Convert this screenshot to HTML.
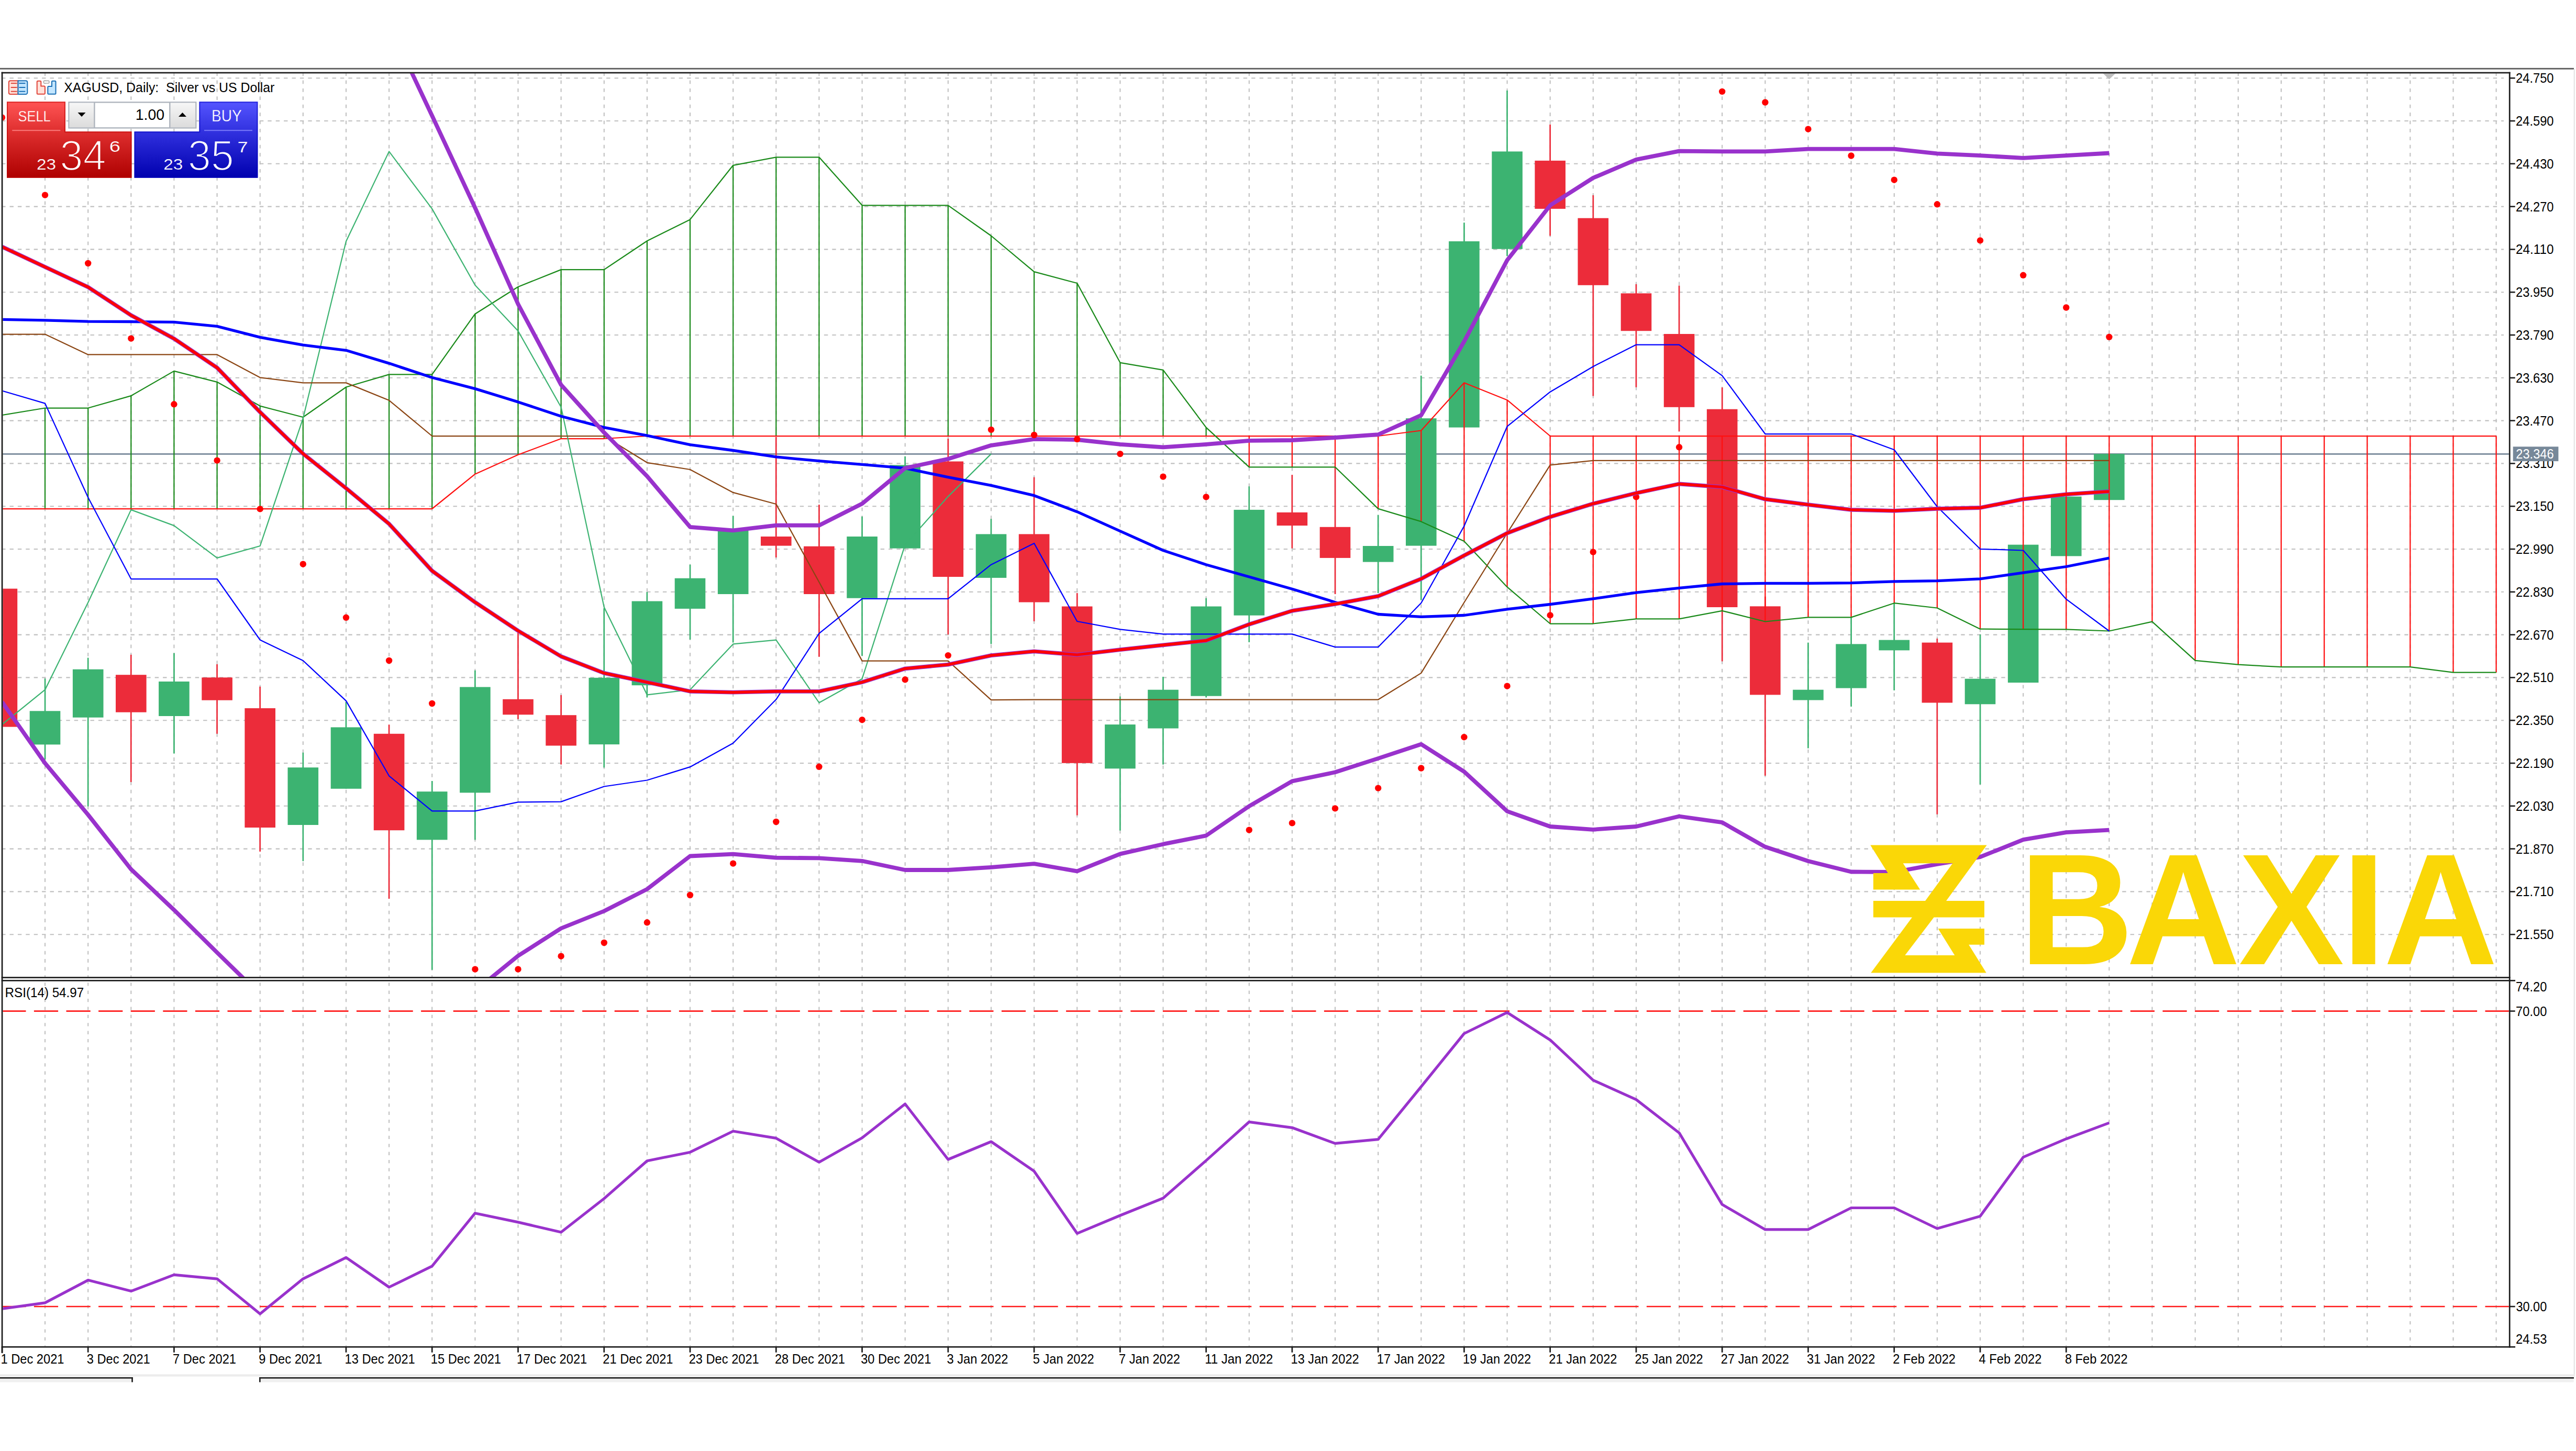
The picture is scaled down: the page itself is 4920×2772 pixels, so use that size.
<!DOCTYPE html>
<html lang="en"><head><meta charset="utf-8"><title>XAGUSD, Daily: Silver vs US Dollar</title>
<style>
html,body{margin:0;padding:0;background:#fff;overflow:hidden}
svg{display:block}
text{font-family:"Liberation Sans",sans-serif}
</style></head>
<body>
<svg width="4920" height="2772" viewBox="0 0 4920 2772">
<defs>
<clipPath id="cm"><rect x="5.40" y="140.35" width="4786.45" height="1725.80"/></clipPath>
<clipPath id="cr"><rect x="5.40" y="1874.65" width="4786.45" height="697.20"/></clipPath>
<linearGradient id="gs" gradientUnits="userSpaceOnUse" x1="0" y1="194" x2="0" y2="340"><stop offset="0" stop-color="#ff5555"/><stop offset="0.38" stop-color="#e03030"/><stop offset="1" stop-color="#ae0000"/></linearGradient>
<linearGradient id="gb" gradientUnits="userSpaceOnUse" x1="0" y1="194" x2="0" y2="340"><stop offset="0" stop-color="#5555ff"/><stop offset="0.38" stop-color="#3232e0"/><stop offset="1" stop-color="#0000ae"/></linearGradient>
<linearGradient id="gsp" x1="0" y1="0" x2="0" y2="1"><stop offset="0" stop-color="#f6f6f6"/><stop offset="1" stop-color="#dcdcdc"/></linearGradient>
</defs>
<rect width="4920" height="2772" fill="#fff"/>
<rect x="0" y="129.8" width="4916" height="2.8" fill="#5c5c5c"/>
<rect x="4915.6" y="132" width="2.3" height="2495" fill="#e6e6e6"/>
<rect x="0" y="2625.5" width="4918" height="4.2" fill="#ececec"/>
<rect x="0" y="2633.6" width="252" height="7" fill="#f0f0f0"/>
<rect x="497.5" y="2633.6" width="4418" height="7" fill="#f0f0f0"/>
<rect x="0" y="2631" width="253.8" height="2.7" fill="#222"/>
<rect x="251.2" y="2631" width="2.7" height="9.5" fill="#222"/>
<rect x="495" y="2631" width="4421" height="2.7" fill="#222"/>
<rect x="495" y="2631" width="2.7" height="9.5" fill="#222"/>
<g clip-path="url(#cm)" fill="none">
<g stroke="#c0c0c0" stroke-width="2.1">
<g stroke-dasharray="7.4 8">
<line x1="3.1" y1="149.2" x2="4782" y2="149.2"/>
<line x1="3.1" y1="231.0" x2="4782" y2="231.0"/>
<line x1="3.1" y1="312.8" x2="4782" y2="312.8"/>
<line x1="3.1" y1="394.6" x2="4782" y2="394.6"/>
<line x1="3.1" y1="476.4" x2="4782" y2="476.4"/>
<line x1="3.1" y1="558.2" x2="4782" y2="558.2"/>
<line x1="3.1" y1="640.0" x2="4782" y2="640.0"/>
<line x1="3.1" y1="721.8" x2="4782" y2="721.8"/>
<line x1="3.1" y1="803.6" x2="4782" y2="803.6"/>
<line x1="3.1" y1="885.4" x2="4782" y2="885.4"/>
<line x1="3.1" y1="967.2" x2="4782" y2="967.2"/>
<line x1="3.1" y1="1049.0" x2="4782" y2="1049.0"/>
<line x1="3.1" y1="1130.8" x2="4782" y2="1130.8"/>
<line x1="3.1" y1="1212.6" x2="4782" y2="1212.6"/>
<line x1="3.1" y1="1294.4" x2="4782" y2="1294.4"/>
<line x1="3.1" y1="1376.2" x2="4782" y2="1376.2"/>
<line x1="3.1" y1="1458.0" x2="4782" y2="1458.0"/>
<line x1="3.1" y1="1539.8" x2="4782" y2="1539.8"/>
<line x1="3.1" y1="1621.6" x2="4782" y2="1621.6"/>
<line x1="3.1" y1="1703.4" x2="4782" y2="1703.4"/>
<line x1="3.1" y1="1785.2" x2="4782" y2="1785.2"/>
</g><g stroke-dasharray="6.8 8.6">
<line x1="86.0" y1="138.1" x2="86.0" y2="1867.5"/>
<line x1="168.2" y1="138.1" x2="168.2" y2="1867.5"/>
<line x1="250.3" y1="138.1" x2="250.3" y2="1867.5"/>
<line x1="332.4" y1="138.1" x2="332.4" y2="1867.5"/>
<line x1="414.6" y1="138.1" x2="414.6" y2="1867.5"/>
<line x1="496.7" y1="138.1" x2="496.7" y2="1867.5"/>
<line x1="578.8" y1="138.1" x2="578.8" y2="1867.5"/>
<line x1="661.0" y1="138.1" x2="661.0" y2="1867.5"/>
<line x1="743.1" y1="138.1" x2="743.1" y2="1867.5"/>
<line x1="825.2" y1="138.1" x2="825.2" y2="1867.5"/>
<line x1="907.4" y1="138.1" x2="907.4" y2="1867.5"/>
<line x1="989.5" y1="138.1" x2="989.5" y2="1867.5"/>
<line x1="1071.6" y1="138.1" x2="1071.6" y2="1867.5"/>
<line x1="1153.8" y1="138.1" x2="1153.8" y2="1867.5"/>
<line x1="1235.9" y1="138.1" x2="1235.9" y2="1867.5"/>
<line x1="1318.0" y1="138.1" x2="1318.0" y2="1867.5"/>
<line x1="1400.2" y1="138.1" x2="1400.2" y2="1867.5"/>
<line x1="1482.3" y1="138.1" x2="1482.3" y2="1867.5"/>
<line x1="1564.4" y1="138.1" x2="1564.4" y2="1867.5"/>
<line x1="1646.6" y1="138.1" x2="1646.6" y2="1867.5"/>
<line x1="1728.7" y1="138.1" x2="1728.7" y2="1867.5"/>
<line x1="1810.8" y1="138.1" x2="1810.8" y2="1867.5"/>
<line x1="1893.0" y1="138.1" x2="1893.0" y2="1867.5"/>
<line x1="1975.1" y1="138.1" x2="1975.1" y2="1867.5"/>
<line x1="2057.2" y1="138.1" x2="2057.2" y2="1867.5"/>
<line x1="2139.4" y1="138.1" x2="2139.4" y2="1867.5"/>
<line x1="2221.5" y1="138.1" x2="2221.5" y2="1867.5"/>
<line x1="2303.6" y1="138.1" x2="2303.6" y2="1867.5"/>
<line x1="2385.8" y1="138.1" x2="2385.8" y2="1867.5"/>
<line x1="2467.9" y1="138.1" x2="2467.9" y2="1867.5"/>
<line x1="2550.0" y1="138.1" x2="2550.0" y2="1867.5"/>
<line x1="2632.2" y1="138.1" x2="2632.2" y2="1867.5"/>
<line x1="2714.3" y1="138.1" x2="2714.3" y2="1867.5"/>
<line x1="2796.4" y1="138.1" x2="2796.4" y2="1867.5"/>
<line x1="2878.6" y1="138.1" x2="2878.6" y2="1867.5"/>
<line x1="2960.7" y1="138.1" x2="2960.7" y2="1867.5"/>
<line x1="3042.8" y1="138.1" x2="3042.8" y2="1867.5"/>
<line x1="3125.0" y1="138.1" x2="3125.0" y2="1867.5"/>
<line x1="3207.1" y1="138.1" x2="3207.1" y2="1867.5"/>
<line x1="3289.2" y1="138.1" x2="3289.2" y2="1867.5"/>
<line x1="3371.4" y1="138.1" x2="3371.4" y2="1867.5"/>
<line x1="3453.5" y1="138.1" x2="3453.5" y2="1867.5"/>
<line x1="3535.6" y1="138.1" x2="3535.6" y2="1867.5"/>
<line x1="3617.8" y1="138.1" x2="3617.8" y2="1867.5"/>
<line x1="3699.9" y1="138.1" x2="3699.9" y2="1867.5"/>
<line x1="3782.0" y1="138.1" x2="3782.0" y2="1867.5"/>
<line x1="3864.2" y1="138.1" x2="3864.2" y2="1867.5"/>
<line x1="3946.3" y1="138.1" x2="3946.3" y2="1867.5"/>
<line x1="4028.4" y1="138.1" x2="4028.4" y2="1867.5"/>
<line x1="4110.5" y1="138.1" x2="4110.5" y2="1867.5"/>
<line x1="4192.7" y1="138.1" x2="4192.7" y2="1867.5"/>
<line x1="4274.8" y1="138.1" x2="4274.8" y2="1867.5"/>
<line x1="4356.9" y1="138.1" x2="4356.9" y2="1867.5"/>
<line x1="4439.1" y1="138.1" x2="4439.1" y2="1867.5"/>
<line x1="4521.2" y1="138.1" x2="4521.2" y2="1867.5"/>
<line x1="4603.3" y1="138.1" x2="4603.3" y2="1867.5"/>
<line x1="4685.5" y1="138.1" x2="4685.5" y2="1867.5"/>
<line x1="4767.6" y1="138.1" x2="4767.6" y2="1867.5"/>
</g></g>
<line x1="3" y1="867.4" x2="4793" y2="867.4" stroke="#778899" stroke-width="2.6"/>
<rect x="-25.4" y="1124.6" width="58.6" height="264.0" fill="#ec2c3a"/>
<rect x="84.7" y="1296.2" width="2.7" height="154.8" fill="#3cb371"/>
<rect x="56.7" y="1358.3" width="58.6" height="64.1" fill="#3cb371"/>
<rect x="166.8" y="1256.6" width="2.7" height="283.9" fill="#3cb371"/>
<rect x="138.9" y="1278.7" width="58.6" height="92.0" fill="#3cb371"/>
<rect x="248.9" y="1250.8" width="2.7" height="243.2" fill="#ec2c3a"/>
<rect x="221.0" y="1289.2" width="58.6" height="71.5" fill="#ec2c3a"/>
<rect x="331.1" y="1247.7" width="2.7" height="191.9" fill="#3cb371"/>
<rect x="303.1" y="1302.0" width="58.6" height="66.0" fill="#3cb371"/>
<rect x="413.2" y="1269.0" width="2.7" height="132.8" fill="#ec2c3a"/>
<rect x="385.3" y="1294.3" width="58.6" height="43.4" fill="#ec2c3a"/>
<rect x="495.3" y="1311.7" width="2.7" height="315.2" fill="#ec2c3a"/>
<rect x="467.4" y="1353.0" width="58.6" height="228.0" fill="#ec2c3a"/>
<rect x="577.5" y="1437.7" width="2.7" height="207.5" fill="#3cb371"/>
<rect x="549.5" y="1466.2" width="58.6" height="109.8" fill="#3cb371"/>
<rect x="659.6" y="1340.9" width="2.7" height="165.9" fill="#3cb371"/>
<rect x="631.7" y="1389.4" width="58.6" height="117.4" fill="#3cb371"/>
<rect x="741.7" y="1384.3" width="2.7" height="332.7" fill="#ec2c3a"/>
<rect x="713.8" y="1401.8" width="58.6" height="184.4" fill="#ec2c3a"/>
<rect x="823.9" y="1492.0" width="2.7" height="360.8" fill="#3cb371"/>
<rect x="795.9" y="1512.2" width="58.6" height="92.2" fill="#3cb371"/>
<rect x="906.0" y="1280.7" width="2.7" height="323.7" fill="#3cb371"/>
<rect x="878.1" y="1312.5" width="58.6" height="201.9" fill="#3cb371"/>
<rect x="988.1" y="1207.0" width="2.7" height="166.9" fill="#ec2c3a"/>
<rect x="960.2" y="1335.8" width="58.6" height="29.5" fill="#ec2c3a"/>
<rect x="1070.3" y="1327.8" width="2.7" height="132.8" fill="#ec2c3a"/>
<rect x="1042.3" y="1366.2" width="58.6" height="58.3" fill="#ec2c3a"/>
<rect x="1152.4" y="1162.0" width="2.7" height="304.4" fill="#3cb371"/>
<rect x="1124.5" y="1294.8" width="58.6" height="127.3" fill="#3cb371"/>
<rect x="1234.5" y="1131.0" width="2.7" height="201.5" fill="#3cb371"/>
<rect x="1206.6" y="1148.5" width="58.6" height="160.7" fill="#3cb371"/>
<rect x="1316.7" y="1078.7" width="2.7" height="143.1" fill="#3cb371"/>
<rect x="1288.7" y="1104.7" width="58.6" height="58.2" fill="#3cb371"/>
<rect x="1398.8" y="985.5" width="2.7" height="242.1" fill="#3cb371"/>
<rect x="1370.9" y="1013.4" width="58.6" height="121.6" fill="#3cb371"/>
<rect x="1480.9" y="835.0" width="2.7" height="230.0" fill="#ec2c3a"/>
<rect x="1453.0" y="1025.0" width="58.6" height="17.6" fill="#ec2c3a"/>
<rect x="1563.1" y="964.1" width="2.7" height="290.7" fill="#ec2c3a"/>
<rect x="1535.1" y="1043.7" width="58.6" height="91.3" fill="#ec2c3a"/>
<rect x="1645.2" y="986.7" width="2.7" height="266.2" fill="#3cb371"/>
<rect x="1617.3" y="1025.0" width="58.6" height="117.7" fill="#3cb371"/>
<rect x="1727.3" y="871.8" width="2.7" height="175.8" fill="#3cb371"/>
<rect x="1699.4" y="888.4" width="58.6" height="159.2" fill="#3cb371"/>
<rect x="1809.5" y="838.0" width="2.7" height="374.1" fill="#ec2c3a"/>
<rect x="1781.5" y="881.5" width="58.6" height="220.5" fill="#ec2c3a"/>
<rect x="1891.6" y="991.3" width="2.7" height="239.1" fill="#3cb371"/>
<rect x="1863.7" y="1020.4" width="58.6" height="83.5" fill="#3cb371"/>
<rect x="1973.7" y="911.7" width="2.7" height="275.2" fill="#ec2c3a"/>
<rect x="1945.8" y="1020.4" width="58.6" height="130.1" fill="#ec2c3a"/>
<rect x="2055.9" y="1133.0" width="2.7" height="424.6" fill="#ec2c3a"/>
<rect x="2027.9" y="1158.5" width="58.6" height="299.3" fill="#ec2c3a"/>
<rect x="2138.0" y="1330.5" width="2.7" height="256.2" fill="#3cb371"/>
<rect x="2110.1" y="1384.1" width="58.6" height="84.2" fill="#3cb371"/>
<rect x="2220.1" y="1292.9" width="2.7" height="167.7" fill="#3cb371"/>
<rect x="2192.2" y="1317.7" width="58.6" height="73.8" fill="#3cb371"/>
<rect x="2302.3" y="1142.7" width="2.7" height="189.8" fill="#3cb371"/>
<rect x="2274.3" y="1158.5" width="58.6" height="171.2" fill="#3cb371"/>
<rect x="2384.4" y="929.2" width="2.7" height="297.7" fill="#3cb371"/>
<rect x="2356.5" y="973.9" width="58.6" height="201.8" fill="#3cb371"/>
<rect x="2466.5" y="907.1" width="2.7" height="140.5" fill="#ec2c3a"/>
<rect x="2438.6" y="978.9" width="58.6" height="25.2" fill="#ec2c3a"/>
<rect x="2548.7" y="892.0" width="2.7" height="243.0" fill="#ec2c3a"/>
<rect x="2520.7" y="1006.8" width="58.6" height="59.1" fill="#ec2c3a"/>
<rect x="2630.8" y="983.6" width="2.7" height="149.4" fill="#3cb371"/>
<rect x="2602.9" y="1043.0" width="58.6" height="30.6" fill="#3cb371"/>
<rect x="2712.9" y="717.6" width="2.7" height="429.0" fill="#3cb371"/>
<rect x="2685.0" y="799.2" width="58.6" height="243.4" fill="#3cb371"/>
<rect x="2795.1" y="425.3" width="2.7" height="391.3" fill="#3cb371"/>
<rect x="2767.1" y="461.0" width="58.6" height="355.6" fill="#3cb371"/>
<rect x="2877.2" y="172.9" width="2.7" height="316.4" fill="#3cb371"/>
<rect x="2849.3" y="289.4" width="58.6" height="186.3" fill="#3cb371"/>
<rect x="2959.3" y="237.8" width="2.7" height="212.7" fill="#ec2c3a"/>
<rect x="2931.4" y="306.9" width="58.6" height="92.0" fill="#ec2c3a"/>
<rect x="3041.5" y="372.9" width="2.7" height="383.6" fill="#ec2c3a"/>
<rect x="3013.5" y="416.7" width="58.6" height="128.1" fill="#ec2c3a"/>
<rect x="3123.6" y="542.9" width="2.7" height="196.9" fill="#ec2c3a"/>
<rect x="3095.7" y="560.4" width="58.6" height="71.8" fill="#ec2c3a"/>
<rect x="3205.7" y="545.6" width="2.7" height="278.8" fill="#ec2c3a"/>
<rect x="3177.8" y="638.0" width="58.6" height="139.8" fill="#ec2c3a"/>
<rect x="3287.9" y="740.2" width="2.7" height="523.2" fill="#ec2c3a"/>
<rect x="3259.9" y="781.7" width="58.6" height="378.3" fill="#ec2c3a"/>
<rect x="3370.0" y="1140.0" width="2.7" height="341.9" fill="#ec2c3a"/>
<rect x="3342.1" y="1158.3" width="58.6" height="169.1" fill="#ec2c3a"/>
<rect x="3452.1" y="1227.6" width="2.7" height="201.9" fill="#3cb371"/>
<rect x="3424.2" y="1317.7" width="58.6" height="19.8" fill="#3cb371"/>
<rect x="3534.3" y="1180.0" width="2.7" height="169.9" fill="#3cb371"/>
<rect x="3506.3" y="1230.4" width="58.6" height="84.2" fill="#3cb371"/>
<rect x="3616.4" y="1152.0" width="2.7" height="166.9" fill="#3cb371"/>
<rect x="3588.5" y="1222.6" width="58.6" height="19.8" fill="#3cb371"/>
<rect x="3698.5" y="1219.9" width="2.7" height="335.8" fill="#ec2c3a"/>
<rect x="3670.6" y="1227.6" width="58.6" height="114.9" fill="#ec2c3a"/>
<rect x="3780.7" y="1212.1" width="2.7" height="286.5" fill="#3cb371"/>
<rect x="3752.7" y="1296.7" width="58.6" height="48.6" fill="#3cb371"/>
<rect x="3834.9" y="1040.6" width="58.6" height="263.5" fill="#3cb371"/>
<rect x="3917.0" y="948.6" width="58.6" height="113.8" fill="#3cb371"/>
<rect x="3999.1" y="867.1" width="58.6" height="88.1" fill="#3cb371"/>
<g stroke-width="2.25">
<line x1="3.9" y1="793.0" x2="3.9" y2="972.0" stroke="#1a8a1a"/>
<line x1="86.0" y1="779.5" x2="86.0" y2="972.0" stroke="#1a8a1a"/>
<line x1="168.2" y1="779.5" x2="168.2" y2="972.0" stroke="#1a8a1a"/>
<line x1="250.3" y1="756.2" x2="250.3" y2="972.0" stroke="#1a8a1a"/>
<line x1="332.4" y1="708.9" x2="332.4" y2="972.0" stroke="#1a8a1a"/>
<line x1="414.6" y1="729.8" x2="414.6" y2="972.0" stroke="#1a8a1a"/>
<line x1="496.7" y1="775.6" x2="496.7" y2="972.0" stroke="#1a8a1a"/>
<line x1="578.8" y1="797.0" x2="578.8" y2="972.0" stroke="#1a8a1a"/>
<line x1="661.0" y1="739.5" x2="661.0" y2="972.0" stroke="#1a8a1a"/>
<line x1="743.1" y1="715.3" x2="743.1" y2="972.0" stroke="#1a8a1a"/>
<line x1="825.2" y1="715.3" x2="825.2" y2="972.0" stroke="#1a8a1a"/>
<line x1="907.4" y1="599.7" x2="907.4" y2="905.7" stroke="#1a8a1a"/>
<line x1="989.5" y1="548.0" x2="989.5" y2="868.8" stroke="#1a8a1a"/>
<line x1="1071.6" y1="515.1" x2="1071.6" y2="838.0" stroke="#1a8a1a"/>
<line x1="1153.8" y1="515.1" x2="1153.8" y2="838.0" stroke="#1a8a1a"/>
<line x1="1235.9" y1="460.2" x2="1235.9" y2="833.0" stroke="#1a8a1a"/>
<line x1="1318.0" y1="419.4" x2="1318.0" y2="833.0" stroke="#1a8a1a"/>
<line x1="1400.2" y1="315.8" x2="1400.2" y2="833.0" stroke="#1a8a1a"/>
<line x1="1482.3" y1="300.3" x2="1482.3" y2="833.0" stroke="#1a8a1a"/>
<line x1="1564.4" y1="300.3" x2="1564.4" y2="833.0" stroke="#1a8a1a"/>
<line x1="1646.6" y1="392.3" x2="1646.6" y2="833.0" stroke="#1a8a1a"/>
<line x1="1728.7" y1="392.3" x2="1728.7" y2="833.0" stroke="#1a8a1a"/>
<line x1="1810.8" y1="392.3" x2="1810.8" y2="833.0" stroke="#1a8a1a"/>
<line x1="1893.0" y1="450.5" x2="1893.0" y2="833.0" stroke="#1a8a1a"/>
<line x1="1975.1" y1="519.2" x2="1975.1" y2="833.0" stroke="#1a8a1a"/>
<line x1="2057.2" y1="541.0" x2="2057.2" y2="833.0" stroke="#1a8a1a"/>
<line x1="2139.4" y1="692.8" x2="2139.4" y2="833.0" stroke="#1a8a1a"/>
<line x1="2221.5" y1="706.8" x2="2221.5" y2="833.0" stroke="#1a8a1a"/>
<line x1="2303.6" y1="816.6" x2="2303.6" y2="833.0" stroke="#1a8a1a"/>
<line x1="2385.8" y1="892.3" x2="2385.8" y2="833.0" stroke="#ff1010"/>
<line x1="2467.9" y1="892.3" x2="2467.9" y2="833.0" stroke="#ff1010"/>
<line x1="2550.0" y1="892.3" x2="2550.0" y2="833.0" stroke="#ff1010"/>
<line x1="2632.2" y1="971.9" x2="2632.2" y2="833.0" stroke="#ff1010"/>
<line x1="2714.3" y1="996.4" x2="2714.3" y2="822.5" stroke="#ff1010"/>
<line x1="2796.4" y1="1034.0" x2="2796.4" y2="731.2" stroke="#ff1010"/>
<line x1="2878.6" y1="1121.4" x2="2878.6" y2="764.2" stroke="#ff1010"/>
<line x1="2960.7" y1="1191.5" x2="2960.7" y2="833.0" stroke="#ff1010"/>
<line x1="3042.8" y1="1191.5" x2="3042.8" y2="833.0" stroke="#ff1010"/>
<line x1="3125.0" y1="1182.3" x2="3125.0" y2="833.0" stroke="#ff1010"/>
<line x1="3207.1" y1="1182.3" x2="3207.1" y2="833.0" stroke="#ff1010"/>
<line x1="3289.2" y1="1166.8" x2="3289.2" y2="833.0" stroke="#ff1010"/>
<line x1="3371.4" y1="1187.5" x2="3371.4" y2="833.0" stroke="#ff1010"/>
<line x1="3453.5" y1="1179.4" x2="3453.5" y2="833.0" stroke="#ff1010"/>
<line x1="3535.6" y1="1179.4" x2="3535.6" y2="833.0" stroke="#ff1010"/>
<line x1="3617.8" y1="1152.2" x2="3617.8" y2="833.0" stroke="#ff1010"/>
<line x1="3699.9" y1="1161.5" x2="3699.9" y2="833.0" stroke="#ff1010"/>
<line x1="3782.0" y1="1201.7" x2="3782.0" y2="833.0" stroke="#ff1010"/>
<line x1="3864.2" y1="1202.0" x2="3864.2" y2="833.0" stroke="#ff1010"/>
<line x1="3946.3" y1="1202.4" x2="3946.3" y2="833.0" stroke="#ff1010"/>
<line x1="4028.4" y1="1205.5" x2="4028.4" y2="833.0" stroke="#ff1010"/>
<line x1="4110.5" y1="1187.7" x2="4110.5" y2="833.0" stroke="#ff1010"/>
<line x1="4192.7" y1="1261.8" x2="4192.7" y2="833.0" stroke="#ff1010"/>
<line x1="4274.8" y1="1269.6" x2="4274.8" y2="833.0" stroke="#ff1010"/>
<line x1="4356.9" y1="1274.2" x2="4356.9" y2="833.0" stroke="#ff1010"/>
<line x1="4439.1" y1="1274.2" x2="4439.1" y2="833.0" stroke="#ff1010"/>
<line x1="4521.2" y1="1274.2" x2="4521.2" y2="833.0" stroke="#ff1010"/>
<line x1="4603.3" y1="1274.2" x2="4603.3" y2="833.0" stroke="#ff1010"/>
<line x1="4685.5" y1="1284.7" x2="4685.5" y2="833.0" stroke="#ff1010"/>
<line x1="4767.6" y1="1284.7" x2="4767.6" y2="833.0" stroke="#ff1010"/>
<polyline points="3.9,972.0 86.0,972.0 168.2,972.0 250.3,972.0 332.4,972.0 414.6,972.0 496.7,972.0 578.8,972.0 661.0,972.0 743.1,972.0 825.2,972.0 907.4,905.7 989.5,868.8 1071.6,838.0 1153.8,838.0 1235.9,833.0 1318.0,833.0 1400.2,833.0 1482.3,833.0 1564.4,833.0 1646.6,833.0 1728.7,833.0 1810.8,833.0 1893.0,833.0 1975.1,833.0 2057.2,833.0 2139.4,833.0 2221.5,833.0 2303.6,833.0 2385.8,833.0 2467.9,833.0 2550.0,833.0 2632.2,833.0 2714.3,822.5 2796.4,731.2 2878.6,764.2 2960.7,833.0 3042.8,833.0 3125.0,833.0 3207.1,833.0 3289.2,833.0 3371.4,833.0 3453.5,833.0 3535.6,833.0 3617.8,833.0 3699.9,833.0 3782.0,833.0 3864.2,833.0 3946.3,833.0 4028.4,833.0 4110.5,833.0 4192.7,833.0 4274.8,833.0 4356.9,833.0 4439.1,833.0 4521.2,833.0 4603.3,833.0 4685.5,833.0 4767.6,833.0" stroke="#ff1010" stroke-linejoin="round"/>
<polyline points="3.9,793.0 86.0,779.5 168.2,779.5 250.3,756.2 332.4,708.9 414.6,729.8 496.7,775.6 578.8,797.0 661.0,739.5 743.1,715.3 825.2,715.3 907.4,599.7 989.5,548.0 1071.6,515.1 1153.8,515.1 1235.9,460.2 1318.0,419.4 1400.2,315.8 1482.3,300.3 1564.4,300.3 1646.6,392.3 1728.7,392.3 1810.8,392.3 1893.0,450.5 1975.1,519.2 2057.2,541.0 2139.4,692.8 2221.5,706.8 2303.6,816.6 2385.8,892.3 2467.9,892.3 2550.0,892.3 2632.2,971.9 2714.3,996.4 2796.4,1034.0 2878.6,1121.4 2960.7,1191.5 3042.8,1191.5 3125.0,1182.3 3207.1,1182.3 3289.2,1166.8 3371.4,1187.5 3453.5,1179.4 3535.6,1179.4 3617.8,1152.2 3699.9,1161.5 3782.0,1201.7 3864.2,1202.0 3946.3,1202.4 4028.4,1205.5 4110.5,1187.7 4192.7,1261.8 4274.8,1269.6 4356.9,1274.2 4439.1,1274.2 4521.2,1274.2 4603.3,1274.2 4685.5,1284.7 4767.6,1284.7" stroke="#1a8a1a" stroke-linejoin="round"/>
<polyline points="3.9,1384.1 86.0,1317.7 168.2,1151.0 250.3,973.9 332.4,1004.1 414.6,1065.9 496.7,1043.0 578.8,799.2 661.0,461.0 743.1,289.4 825.2,398.9 907.4,544.8 989.5,632.2 1071.6,777.8 1153.8,1160.0 1235.9,1327.4 1318.0,1317.7 1400.2,1230.4 1482.3,1222.6 1564.4,1342.5 1646.6,1296.7 1728.7,1040.6 1810.8,948.6 1893.0,867.1" stroke="#3cb371" stroke-width="2.2" stroke-linejoin="round"/>
<polyline points="3.9,638.5 86.0,638.5 168.2,677.4 250.3,677.4 332.4,677.4 414.6,677.4 496.7,721.3 578.8,731.4 661.0,731.4 743.1,764.8 825.2,833.0 907.4,833.0 989.5,833.0 1071.6,833.0 1153.8,833.0 1235.9,883.8 1318.0,897.0 1400.2,940.9 1482.3,963.0 1564.4,1112.0 1646.6,1262.6 1728.7,1262.6 1810.8,1262.6 1893.0,1337.1 1975.1,1336.5 2057.2,1336.5 2139.4,1336.5 2221.5,1336.5 2303.6,1336.5 2385.8,1336.5 2467.9,1336.5 2550.0,1336.5 2632.2,1336.5 2714.3,1285.9 2796.4,1151.0 2878.6,1018.5 2960.7,888.4 3042.8,879.9 3125.0,879.9 3207.1,879.9 3289.2,879.9 3371.4,879.9 3453.5,879.9 3535.6,879.9 3617.8,879.9 3699.9,879.9 3782.0,879.9 3864.2,879.9 3946.3,879.9 4028.4,879.9" stroke="#8b4513" stroke-linejoin="round"/>
<polyline points="3.9,746.5 86.0,770.6 168.2,950.3 250.3,1106.0 332.4,1106.0 414.6,1106.0 496.7,1222.5 578.8,1262.0 661.0,1338.9 743.1,1482.3 825.2,1549.3 907.4,1549.3 989.5,1532.4 1071.6,1531.6 1153.8,1502.5 1235.9,1490.5 1318.0,1465.2 1400.2,1419.8 1482.3,1336.3 1564.4,1210.2 1646.6,1143.9 1728.7,1143.9 1810.8,1143.9 1893.0,1078.7 1975.1,1037.9 2057.2,1187.0 2139.4,1202.4 2221.5,1211.3 2303.6,1211.3 2385.8,1211.3 2467.9,1211.3 2550.0,1236.2 2632.2,1236.2 2714.3,1152.0 2796.4,1005.0 2878.6,814.7 2960.7,748.7 3042.8,700.2 3125.0,658.6 3207.1,658.6 3289.2,717.6 3371.4,829.0 3453.5,829.0 3535.6,829.0 3617.8,859.3 3699.9,968.0 3782.0,1048.8 3864.2,1051.5 3946.3,1144.7 4028.4,1205.5" stroke="#0000ff" stroke-linejoin="round"/>
</g>
<polyline points="3.9,610.3 86.0,611.8 168.2,614.1 250.3,614.5 332.4,615.3 414.6,623.4 496.7,644.4 578.8,659.2 661.0,669.3 743.1,694.1 825.2,721.3 907.4,742.6 989.5,767.9 1071.6,795.3 1153.8,816.6 1235.9,832.2 1318.0,849.6 1400.2,860.5 1482.3,872.9 1564.4,880.7 1646.6,887.3 1728.7,894.3 1810.8,911.7 1893.0,927.3 1975.1,946.7 2057.2,977.7 2139.4,1014.6 2221.5,1051.5 2303.6,1078.7 2385.8,1102.0 2467.9,1125.2 2550.0,1150.5 2632.2,1173.5 2714.3,1178.4 2796.4,1175.5 2878.6,1163.8 2960.7,1154.5 3042.8,1143.9 3125.0,1132.2 3207.1,1123.3 3289.2,1115.5 3371.4,1114.4 3453.5,1114.4 3535.6,1113.6 3617.8,1110.9 3699.9,1109.7 3782.0,1105.8 3864.2,1094.2 3946.3,1082.5 4028.4,1066.2" stroke="#0000ff" stroke-width="5.3" stroke-linejoin="round"/>
<polyline points="743.1,47.0 825.2,221.0 907.4,397.0 989.5,581.0 1071.6,735.1 1153.8,826.3 1235.9,909.8 1318.0,1006.8 1400.2,1013.4 1482.3,1003.7 1564.4,1003.7 1646.6,962.2 1728.7,894.3 1810.8,876.8 1893.0,850.8 1975.1,838.8 2057.2,840.0 2139.4,848.9 2221.5,854.3 2303.6,848.9 2385.8,841.9 2467.9,841.0 2550.0,836.0 2632.2,830.2 2714.3,793.3 2796.4,652.5 2878.6,497.1 2960.7,392.3 3042.8,339.9 3125.0,304.9 3207.1,288.6 3289.2,289.4 3371.4,289.4 3453.5,284.7 3535.6,284.7 3617.8,284.7 3699.9,293.3 3782.0,297.2 3864.2,301.8 3946.3,297.2 4028.4,292.5" stroke="#9932cc" stroke-width="7.8" stroke-linejoin="round"/>
<polyline points="3.9,1340.9 86.0,1458.0 168.2,1556.5 250.3,1660.7 332.4,1738.3 414.6,1819.8 496.7,1900.0 578.8,1960.0 661.0,1990.0 743.1,1990.0 825.2,1960.0 907.4,1893.0 989.5,1826.0 1071.6,1773.5 1153.8,1740.5 1235.9,1698.6 1318.0,1635.5 1400.2,1631.6 1482.3,1638.6 1564.4,1639.4 1646.6,1644.8 1728.7,1662.0 1810.8,1662.0 1893.0,1656.8 1975.1,1650.2 2057.2,1664.4 2139.4,1631.4 2221.5,1612.7 2303.6,1596.4 2385.8,1540.1 2467.9,1492.4 2550.0,1475.3 2632.2,1448.9 2714.3,1421.7 2796.4,1474.1 2878.6,1549.8 2960.7,1579.0 3042.8,1584.8 3125.0,1579.0 3207.1,1559.5 3289.2,1571.2 3371.4,1617.8 3453.5,1645.0 3535.6,1665.5 3617.8,1666.0 3699.9,1650.8 3782.0,1637.2 3864.2,1604.2 3946.3,1590.2 4028.4,1585.6" stroke="#9932cc" stroke-width="7.8" stroke-linejoin="round"/>
<g fill="#ff0000">
<circle cx="3.9" cy="224.5" r="6.2"/>
<circle cx="86.0" cy="372.6" r="6.2"/>
<circle cx="168.2" cy="503.0" r="6.2"/>
<circle cx="250.3" cy="646.6" r="6.2"/>
<circle cx="332.4" cy="772.3" r="6.2"/>
<circle cx="414.6" cy="879.7" r="6.2"/>
<circle cx="496.7" cy="972.4" r="6.2"/>
<circle cx="578.8" cy="1077.7" r="6.2"/>
<circle cx="661.0" cy="1179.8" r="6.2"/>
<circle cx="743.1" cy="1262.0" r="6.2"/>
<circle cx="825.2" cy="1344.0" r="6.2"/>
<circle cx="907.4" cy="1851.7" r="6.2"/>
<circle cx="989.5" cy="1851.7" r="6.2"/>
<circle cx="1071.6" cy="1826.7" r="6.2"/>
<circle cx="1153.8" cy="1801.0" r="6.2"/>
<circle cx="1235.9" cy="1762.3" r="6.2"/>
<circle cx="1318.0" cy="1710.0" r="6.2"/>
<circle cx="1400.2" cy="1649.6" r="6.2"/>
<circle cx="1482.3" cy="1570.0" r="6.2"/>
<circle cx="1564.4" cy="1464.8" r="6.2"/>
<circle cx="1646.6" cy="1375.2" r="6.2"/>
<circle cx="1728.7" cy="1298.3" r="6.2"/>
<circle cx="1810.8" cy="1252.1" r="6.2"/>
<circle cx="1893.0" cy="820.9" r="6.2"/>
<circle cx="1975.1" cy="831.0" r="6.2"/>
<circle cx="2057.2" cy="839.1" r="6.2"/>
<circle cx="2139.4" cy="867.1" r="6.2"/>
<circle cx="2221.5" cy="910.6" r="6.2"/>
<circle cx="2303.6" cy="949.4" r="6.2"/>
<circle cx="2385.8" cy="1585.6" r="6.2"/>
<circle cx="2467.9" cy="1572.4" r="6.2"/>
<circle cx="2550.0" cy="1544.4" r="6.2"/>
<circle cx="2632.2" cy="1505.6" r="6.2"/>
<circle cx="2714.3" cy="1467.5" r="6.2"/>
<circle cx="2796.4" cy="1408.2" r="6.2"/>
<circle cx="2878.6" cy="1310.7" r="6.2"/>
<circle cx="2960.7" cy="1175.4" r="6.2"/>
<circle cx="3042.8" cy="1054.6" r="6.2"/>
<circle cx="3125.0" cy="949.4" r="6.2"/>
<circle cx="3207.1" cy="854.3" r="6.2"/>
<circle cx="3289.2" cy="174.9" r="6.2"/>
<circle cx="3371.4" cy="195.5" r="6.2"/>
<circle cx="3453.5" cy="246.7" r="6.2"/>
<circle cx="3535.6" cy="297.5" r="6.2"/>
<circle cx="3617.8" cy="343.7" r="6.2"/>
<circle cx="3699.9" cy="390.3" r="6.2"/>
<circle cx="3782.0" cy="459.4" r="6.2"/>
<circle cx="3864.2" cy="525.8" r="6.2"/>
<circle cx="3946.3" cy="587.5" r="6.2"/>
<circle cx="4028.4" cy="643.8" r="6.2"/>
</g>
<polyline points="3.9,471.4 86.0,510.0 168.2,548.5 250.3,602.3 332.4,647.0 414.6,702.5 496.7,787.3 578.8,866.8 661.0,932.8 743.1,1000.8 825.2,1090.5 907.4,1150.6 989.5,1205.0 1071.6,1254.0 1153.8,1285.9 1235.9,1303.3 1318.0,1320.8 1400.2,1322.7 1482.3,1320.8 1564.4,1320.8 1646.6,1303.3 1728.7,1277.3 1810.8,1269.6 1893.0,1252.1 1975.1,1244.3 2057.2,1250.9 2139.4,1241.2 2221.5,1232.3 2303.6,1223.8 2385.8,1192.7 2467.9,1166.9 2550.0,1154.0 2632.2,1138.8 2714.3,1105.8 2796.4,1061.2 2878.6,1018.5 2960.7,987.4 3042.8,962.2 3125.0,942.0 3207.1,924.5 3289.2,930.4 3371.4,953.7 3453.5,964.1 3535.6,973.9 3617.8,975.8 3699.9,971.9 3782.0,970.0 3864.2,953.7 3946.3,944.3 4028.4,938.9" stroke="#9932cc" stroke-width="7.8" stroke-linejoin="round"/>
<polyline points="3.9,471.4 86.0,510.0 168.2,548.5 250.3,602.3 332.4,647.0 414.6,702.5 496.7,787.3 578.8,866.8 661.0,932.8 743.1,1000.8 825.2,1090.5 907.4,1150.6 989.5,1205.0 1071.6,1254.0 1153.8,1285.9 1235.9,1303.3 1318.0,1320.8 1400.2,1322.7 1482.3,1320.8 1564.4,1320.8 1646.6,1303.3 1728.7,1277.3 1810.8,1269.6 1893.0,1252.1 1975.1,1244.3 2057.2,1250.9 2139.4,1241.2 2221.5,1232.3 2303.6,1223.8 2385.8,1192.7 2467.9,1166.9 2550.0,1154.0 2632.2,1138.8 2714.3,1105.8 2796.4,1061.2 2878.6,1018.5 2960.7,987.4 3042.8,962.2 3125.0,942.0 3207.1,924.5 3289.2,930.4 3371.4,953.7 3453.5,964.1 3535.6,973.9 3617.8,975.8 3699.9,971.9 3782.0,970.0 3864.2,953.7 3946.3,944.3 4028.4,938.9" stroke="#ff0000" stroke-width="5.4" stroke-linejoin="round"/>
<polygon points="4016.5,140.2 4040.5,140.2 4028.5,151.5" fill="#bdbdbd" stroke="none"/>
</g>
<polygon points="3572.3,1614.5 3794.7,1614.5 3717.1,1720.9 3790.0,1720.9 3790.0,1752.6 3693.6,1752.6 3638.4,1825.1 3733.3,1825.1 3701.6,1774.0 3790.0,1774.0 3790.0,1804.7 3760.2,1804.7 3793.7,1858.6 3573.3,1858.6 3652.0,1752.6 3577.9,1752.6 3577.9,1720.9 3677.1,1720.9 3729.5,1649.3 3634.7,1649.3 3667.2,1699.5 3577.9,1699.5 3577.9,1667.9 3605.8,1667.9" fill="#fad707"/>
<text x="3856.8 4060.8 4275.6 4472.7 4552.4" y="1841.9" font-size="302.33" font-weight="bold" fill="#fad707">BAXIA</text>
<g clip-path="url(#cr)" fill="none">
<g stroke="#c0c0c0" stroke-width="2.1" stroke-dasharray="6.3 9.1">
<line x1="86.0" y1="1877.2" x2="86.0" y2="2573.2"/>
<line x1="168.2" y1="1877.2" x2="168.2" y2="2573.2"/>
<line x1="250.3" y1="1877.2" x2="250.3" y2="2573.2"/>
<line x1="332.4" y1="1877.2" x2="332.4" y2="2573.2"/>
<line x1="414.6" y1="1877.2" x2="414.6" y2="2573.2"/>
<line x1="496.7" y1="1877.2" x2="496.7" y2="2573.2"/>
<line x1="578.8" y1="1877.2" x2="578.8" y2="2573.2"/>
<line x1="661.0" y1="1877.2" x2="661.0" y2="2573.2"/>
<line x1="743.1" y1="1877.2" x2="743.1" y2="2573.2"/>
<line x1="825.2" y1="1877.2" x2="825.2" y2="2573.2"/>
<line x1="907.4" y1="1877.2" x2="907.4" y2="2573.2"/>
<line x1="989.5" y1="1877.2" x2="989.5" y2="2573.2"/>
<line x1="1071.6" y1="1877.2" x2="1071.6" y2="2573.2"/>
<line x1="1153.8" y1="1877.2" x2="1153.8" y2="2573.2"/>
<line x1="1235.9" y1="1877.2" x2="1235.9" y2="2573.2"/>
<line x1="1318.0" y1="1877.2" x2="1318.0" y2="2573.2"/>
<line x1="1400.2" y1="1877.2" x2="1400.2" y2="2573.2"/>
<line x1="1482.3" y1="1877.2" x2="1482.3" y2="2573.2"/>
<line x1="1564.4" y1="1877.2" x2="1564.4" y2="2573.2"/>
<line x1="1646.6" y1="1877.2" x2="1646.6" y2="2573.2"/>
<line x1="1728.7" y1="1877.2" x2="1728.7" y2="2573.2"/>
<line x1="1810.8" y1="1877.2" x2="1810.8" y2="2573.2"/>
<line x1="1893.0" y1="1877.2" x2="1893.0" y2="2573.2"/>
<line x1="1975.1" y1="1877.2" x2="1975.1" y2="2573.2"/>
<line x1="2057.2" y1="1877.2" x2="2057.2" y2="2573.2"/>
<line x1="2139.4" y1="1877.2" x2="2139.4" y2="2573.2"/>
<line x1="2221.5" y1="1877.2" x2="2221.5" y2="2573.2"/>
<line x1="2303.6" y1="1877.2" x2="2303.6" y2="2573.2"/>
<line x1="2385.8" y1="1877.2" x2="2385.8" y2="2573.2"/>
<line x1="2467.9" y1="1877.2" x2="2467.9" y2="2573.2"/>
<line x1="2550.0" y1="1877.2" x2="2550.0" y2="2573.2"/>
<line x1="2632.2" y1="1877.2" x2="2632.2" y2="2573.2"/>
<line x1="2714.3" y1="1877.2" x2="2714.3" y2="2573.2"/>
<line x1="2796.4" y1="1877.2" x2="2796.4" y2="2573.2"/>
<line x1="2878.6" y1="1877.2" x2="2878.6" y2="2573.2"/>
<line x1="2960.7" y1="1877.2" x2="2960.7" y2="2573.2"/>
<line x1="3042.8" y1="1877.2" x2="3042.8" y2="2573.2"/>
<line x1="3125.0" y1="1877.2" x2="3125.0" y2="2573.2"/>
<line x1="3207.1" y1="1877.2" x2="3207.1" y2="2573.2"/>
<line x1="3289.2" y1="1877.2" x2="3289.2" y2="2573.2"/>
<line x1="3371.4" y1="1877.2" x2="3371.4" y2="2573.2"/>
<line x1="3453.5" y1="1877.2" x2="3453.5" y2="2573.2"/>
<line x1="3535.6" y1="1877.2" x2="3535.6" y2="2573.2"/>
<line x1="3617.8" y1="1877.2" x2="3617.8" y2="2573.2"/>
<line x1="3699.9" y1="1877.2" x2="3699.9" y2="2573.2"/>
<line x1="3782.0" y1="1877.2" x2="3782.0" y2="2573.2"/>
<line x1="3864.2" y1="1877.2" x2="3864.2" y2="2573.2"/>
<line x1="3946.3" y1="1877.2" x2="3946.3" y2="2573.2"/>
<line x1="4028.4" y1="1877.2" x2="4028.4" y2="2573.2"/>
<line x1="4110.5" y1="1877.2" x2="4110.5" y2="2573.2"/>
<line x1="4192.7" y1="1877.2" x2="4192.7" y2="2573.2"/>
<line x1="4274.8" y1="1877.2" x2="4274.8" y2="2573.2"/>
<line x1="4356.9" y1="1877.2" x2="4356.9" y2="2573.2"/>
<line x1="4439.1" y1="1877.2" x2="4439.1" y2="2573.2"/>
<line x1="4521.2" y1="1877.2" x2="4521.2" y2="2573.2"/>
<line x1="4603.3" y1="1877.2" x2="4603.3" y2="2573.2"/>
<line x1="4685.5" y1="1877.2" x2="4685.5" y2="2573.2"/>
<line x1="4767.6" y1="1877.2" x2="4767.6" y2="2573.2"/>
</g>
<line x1="3.3" y1="1931.6" x2="4793" y2="1931.6" stroke="#ff1a1a" stroke-width="2.6" stroke-dasharray="46.2 15.4"/>
<line x1="3.3" y1="2496.0" x2="4793" y2="2496.0" stroke="#ff1a1a" stroke-width="2.6" stroke-dasharray="46.2 15.4"/>
<polyline points="3.9,2500.4 86.0,2488.9 168.2,2445.6 250.3,2466.6 332.4,2435.4 414.6,2443.1 496.7,2509.9 578.8,2443.1 661.0,2402.3 743.1,2459.0 825.2,2418.9 907.4,2317.7 989.5,2334.9 1071.6,2354.0 1153.8,2289.7 1235.9,2217.7 1318.0,2201.2 1400.2,2161.0 1482.3,2174.4 1564.4,2220.3 1646.6,2173.8 1728.7,2109.0 1810.8,2215.0 1893.0,2181.0 1975.1,2237.4 2057.2,2356.3 2139.4,2322.0 2221.5,2289.0 2303.6,2217.1 2385.8,2143.3 2467.9,2154.3 2550.0,2184.4 2632.2,2176.7 2714.3,2076.0 2796.4,1974.5 2878.6,1934.2 2960.7,1986.7 3042.8,2063.6 3125.0,2100.6 3207.1,2164.2 3289.2,2301.1 3371.4,2348.9 3453.5,2348.9 3535.6,2307.5 3617.8,2307.5 3699.9,2347.0 3782.0,2323.4 3864.2,2210.7 3946.3,2175.7 4028.4,2145.1" stroke="#9932cc" stroke-width="5.2" stroke-linejoin="round"/>
</g>
<g fill="#1c1c1c">
<rect x="2.70" y="137.65" width="2.70" height="2447.40"/>
<rect x="2.70" y="137.65" width="4791.85" height="2.70"/>
<rect x="4791.85" y="137.65" width="2.70" height="2436.90"/>
<rect x="2.70" y="1866.15" width="4791.85" height="2.70"/>
<rect x="2.70" y="1871.95" width="4801.35" height="2.70"/>
<rect x="2.70" y="2571.85" width="4801.35" height="2.70"/>
<rect x="4793.20" y="147.90" width="10.5" height="2.6"/>
<rect x="4793.20" y="229.70" width="10.5" height="2.6"/>
<rect x="4793.20" y="311.50" width="10.5" height="2.6"/>
<rect x="4793.20" y="393.30" width="10.5" height="2.6"/>
<rect x="4793.20" y="475.10" width="10.5" height="2.6"/>
<rect x="4793.20" y="556.90" width="10.5" height="2.6"/>
<rect x="4793.20" y="638.70" width="10.5" height="2.6"/>
<rect x="4793.20" y="720.50" width="10.5" height="2.6"/>
<rect x="4793.20" y="802.30" width="10.5" height="2.6"/>
<rect x="4793.20" y="884.10" width="10.5" height="2.6"/>
<rect x="4793.20" y="965.90" width="10.5" height="2.6"/>
<rect x="4793.20" y="1047.70" width="10.5" height="2.6"/>
<rect x="4793.20" y="1129.50" width="10.5" height="2.6"/>
<rect x="4793.20" y="1211.30" width="10.5" height="2.6"/>
<rect x="4793.20" y="1293.10" width="10.5" height="2.6"/>
<rect x="4793.20" y="1374.90" width="10.5" height="2.6"/>
<rect x="4793.20" y="1456.70" width="10.5" height="2.6"/>
<rect x="4793.20" y="1538.50" width="10.5" height="2.6"/>
<rect x="4793.20" y="1620.30" width="10.5" height="2.6"/>
<rect x="4793.20" y="1702.10" width="10.5" height="2.6"/>
<rect x="4793.20" y="1783.90" width="10.5" height="2.6"/>
<rect x="4793.20" y="1930.30" width="10.5" height="2.6"/>
<rect x="4793.20" y="2494.70" width="10.5" height="2.6"/>
<rect x="2.70" y="2573.20" width="2.7" height="10.5"/>
<rect x="166.82" y="2573.20" width="2.7" height="10.5"/>
<rect x="331.08" y="2573.20" width="2.7" height="10.5"/>
<rect x="495.35" y="2573.20" width="2.7" height="10.5"/>
<rect x="659.61" y="2573.20" width="2.7" height="10.5"/>
<rect x="823.88" y="2573.20" width="2.7" height="10.5"/>
<rect x="988.15" y="2573.20" width="2.7" height="10.5"/>
<rect x="1152.41" y="2573.20" width="2.7" height="10.5"/>
<rect x="1316.68" y="2573.20" width="2.7" height="10.5"/>
<rect x="1480.94" y="2573.20" width="2.7" height="10.5"/>
<rect x="1645.21" y="2573.20" width="2.7" height="10.5"/>
<rect x="1809.48" y="2573.20" width="2.7" height="10.5"/>
<rect x="1973.74" y="2573.20" width="2.7" height="10.5"/>
<rect x="2138.01" y="2573.20" width="2.7" height="10.5"/>
<rect x="2302.27" y="2573.20" width="2.7" height="10.5"/>
<rect x="2466.54" y="2573.20" width="2.7" height="10.5"/>
<rect x="2630.81" y="2573.20" width="2.7" height="10.5"/>
<rect x="2795.07" y="2573.20" width="2.7" height="10.5"/>
<rect x="2959.34" y="2573.20" width="2.7" height="10.5"/>
<rect x="3123.60" y="2573.20" width="2.7" height="10.5"/>
<rect x="3287.87" y="2573.20" width="2.7" height="10.5"/>
<rect x="3452.14" y="2573.20" width="2.7" height="10.5"/>
<rect x="3616.40" y="2573.20" width="2.7" height="10.5"/>
<rect x="3780.67" y="2573.20" width="2.7" height="10.5"/>
<rect x="3944.93" y="2573.20" width="2.7" height="10.5"/>
</g>
<text x="4805.11" y="158.20" font-size="25.30" textLength="72.42" lengthAdjust="spacingAndGlyphs" fill="#000" xml:space="preserve">24.750</text>
<text x="4805.11" y="240.00" font-size="25.30" textLength="72.42" lengthAdjust="spacingAndGlyphs" fill="#000" xml:space="preserve">24.590</text>
<text x="4805.11" y="321.80" font-size="25.30" textLength="72.42" lengthAdjust="spacingAndGlyphs" fill="#000" xml:space="preserve">24.430</text>
<text x="4805.11" y="403.60" font-size="25.30" textLength="72.42" lengthAdjust="spacingAndGlyphs" fill="#000" xml:space="preserve">24.270</text>
<text x="4805.11" y="485.40" font-size="25.30" textLength="72.42" lengthAdjust="spacingAndGlyphs" fill="#000" xml:space="preserve">24.110</text>
<text x="4805.11" y="567.20" font-size="25.30" textLength="72.42" lengthAdjust="spacingAndGlyphs" fill="#000" xml:space="preserve">23.950</text>
<text x="4805.11" y="649.00" font-size="25.30" textLength="72.42" lengthAdjust="spacingAndGlyphs" fill="#000" xml:space="preserve">23.790</text>
<text x="4805.11" y="730.80" font-size="25.30" textLength="72.42" lengthAdjust="spacingAndGlyphs" fill="#000" xml:space="preserve">23.630</text>
<text x="4805.11" y="812.60" font-size="25.30" textLength="72.42" lengthAdjust="spacingAndGlyphs" fill="#000" xml:space="preserve">23.470</text>
<text x="4805.11" y="894.40" font-size="25.30" textLength="72.42" lengthAdjust="spacingAndGlyphs" fill="#000" xml:space="preserve">23.310</text>
<text x="4805.11" y="976.20" font-size="25.30" textLength="72.42" lengthAdjust="spacingAndGlyphs" fill="#000" xml:space="preserve">23.150</text>
<text x="4805.11" y="1058.00" font-size="25.30" textLength="72.42" lengthAdjust="spacingAndGlyphs" fill="#000" xml:space="preserve">22.990</text>
<text x="4805.11" y="1139.80" font-size="25.30" textLength="72.42" lengthAdjust="spacingAndGlyphs" fill="#000" xml:space="preserve">22.830</text>
<text x="4805.11" y="1221.60" font-size="25.30" textLength="72.42" lengthAdjust="spacingAndGlyphs" fill="#000" xml:space="preserve">22.670</text>
<text x="4805.11" y="1303.40" font-size="25.30" textLength="72.42" lengthAdjust="spacingAndGlyphs" fill="#000" xml:space="preserve">22.510</text>
<text x="4805.11" y="1385.20" font-size="25.30" textLength="72.42" lengthAdjust="spacingAndGlyphs" fill="#000" xml:space="preserve">22.350</text>
<text x="4805.11" y="1467.00" font-size="25.30" textLength="72.42" lengthAdjust="spacingAndGlyphs" fill="#000" xml:space="preserve">22.190</text>
<text x="4805.11" y="1548.80" font-size="25.30" textLength="72.42" lengthAdjust="spacingAndGlyphs" fill="#000" xml:space="preserve">22.030</text>
<text x="4805.11" y="1630.60" font-size="25.30" textLength="72.42" lengthAdjust="spacingAndGlyphs" fill="#000" xml:space="preserve">21.870</text>
<text x="4805.11" y="1712.40" font-size="25.30" textLength="72.42" lengthAdjust="spacingAndGlyphs" fill="#000" xml:space="preserve">21.710</text>
<text x="4805.11" y="1794.20" font-size="25.30" textLength="72.42" lengthAdjust="spacingAndGlyphs" fill="#000" xml:space="preserve">21.550</text>
<rect x="4799.7" y="853.3" width="86.7" height="27.8" fill="#778899"/>
<text x="4805.31" y="876.40" font-size="25.30" textLength="72.23" lengthAdjust="spacingAndGlyphs" fill="#fff" xml:space="preserve">23.346</text>
<text x="4805.09" y="1894.40" font-size="25.30" textLength="59.24" lengthAdjust="spacingAndGlyphs" fill="#000" xml:space="preserve">74.20</text>
<text x="4805.09" y="1940.60" font-size="25.30" textLength="59.24" lengthAdjust="spacingAndGlyphs" fill="#000" xml:space="preserve">70.00</text>
<text x="4805.40" y="2505.00" font-size="25.30" textLength="58.92" lengthAdjust="spacingAndGlyphs" fill="#000" xml:space="preserve">30.00</text>
<text x="4805.11" y="2566.70" font-size="25.30" textLength="59.33" lengthAdjust="spacingAndGlyphs" fill="#000" xml:space="preserve">24.53</text>
<text x="9.62" y="1904.50" font-size="25.30" textLength="150.60" lengthAdjust="spacingAndGlyphs" fill="#000" xml:space="preserve">RSI(14) 54.97</text>
<text x="1.50" y="2605.20" font-size="25.30" textLength="120.99" lengthAdjust="spacingAndGlyphs" fill="#000" xml:space="preserve">1 Dec 2021</text>
<text x="165.77" y="2605.20" font-size="25.30" textLength="120.99" lengthAdjust="spacingAndGlyphs" fill="#000" xml:space="preserve">3 Dec 2021</text>
<text x="330.03" y="2605.20" font-size="25.30" textLength="120.99" lengthAdjust="spacingAndGlyphs" fill="#000" xml:space="preserve">7 Dec 2021</text>
<text x="494.30" y="2605.20" font-size="25.30" textLength="120.99" lengthAdjust="spacingAndGlyphs" fill="#000" xml:space="preserve">9 Dec 2021</text>
<text x="658.56" y="2605.20" font-size="25.30" textLength="134.15" lengthAdjust="spacingAndGlyphs" fill="#000" xml:space="preserve">13 Dec 2021</text>
<text x="822.83" y="2605.20" font-size="25.30" textLength="134.15" lengthAdjust="spacingAndGlyphs" fill="#000" xml:space="preserve">15 Dec 2021</text>
<text x="987.10" y="2605.20" font-size="25.30" textLength="134.15" lengthAdjust="spacingAndGlyphs" fill="#000" xml:space="preserve">17 Dec 2021</text>
<text x="1151.36" y="2605.20" font-size="25.30" textLength="134.15" lengthAdjust="spacingAndGlyphs" fill="#000" xml:space="preserve">21 Dec 2021</text>
<text x="1315.63" y="2605.20" font-size="25.30" textLength="134.15" lengthAdjust="spacingAndGlyphs" fill="#000" xml:space="preserve">23 Dec 2021</text>
<text x="1479.89" y="2605.20" font-size="25.30" textLength="134.15" lengthAdjust="spacingAndGlyphs" fill="#000" xml:space="preserve">28 Dec 2021</text>
<text x="1644.16" y="2605.20" font-size="25.30" textLength="134.15" lengthAdjust="spacingAndGlyphs" fill="#000" xml:space="preserve">30 Dec 2021</text>
<text x="1808.43" y="2605.20" font-size="25.30" textLength="117.06" lengthAdjust="spacingAndGlyphs" fill="#000" xml:space="preserve">3 Jan 2022</text>
<text x="1972.69" y="2605.20" font-size="25.30" textLength="117.06" lengthAdjust="spacingAndGlyphs" fill="#000" xml:space="preserve">5 Jan 2022</text>
<text x="2136.96" y="2605.20" font-size="25.30" textLength="117.06" lengthAdjust="spacingAndGlyphs" fill="#000" xml:space="preserve">7 Jan 2022</text>
<text x="2301.22" y="2605.20" font-size="25.30" textLength="130.22" lengthAdjust="spacingAndGlyphs" fill="#000" xml:space="preserve">11 Jan 2022</text>
<text x="2465.49" y="2605.20" font-size="25.30" textLength="130.22" lengthAdjust="spacingAndGlyphs" fill="#000" xml:space="preserve">13 Jan 2022</text>
<text x="2629.76" y="2605.20" font-size="25.30" textLength="130.22" lengthAdjust="spacingAndGlyphs" fill="#000" xml:space="preserve">17 Jan 2022</text>
<text x="2794.02" y="2605.20" font-size="25.30" textLength="130.22" lengthAdjust="spacingAndGlyphs" fill="#000" xml:space="preserve">19 Jan 2022</text>
<text x="2958.29" y="2605.20" font-size="25.30" textLength="130.22" lengthAdjust="spacingAndGlyphs" fill="#000" xml:space="preserve">21 Jan 2022</text>
<text x="3122.55" y="2605.20" font-size="25.30" textLength="130.22" lengthAdjust="spacingAndGlyphs" fill="#000" xml:space="preserve">25 Jan 2022</text>
<text x="3286.82" y="2605.20" font-size="25.30" textLength="130.22" lengthAdjust="spacingAndGlyphs" fill="#000" xml:space="preserve">27 Jan 2022</text>
<text x="3451.09" y="2605.20" font-size="25.30" textLength="130.22" lengthAdjust="spacingAndGlyphs" fill="#000" xml:space="preserve">31 Jan 2022</text>
<text x="3615.35" y="2605.20" font-size="25.30" textLength="119.69" lengthAdjust="spacingAndGlyphs" fill="#000" xml:space="preserve">2 Feb 2022</text>
<text x="3779.62" y="2605.20" font-size="25.30" textLength="119.69" lengthAdjust="spacingAndGlyphs" fill="#000" xml:space="preserve">4 Feb 2022</text>
<text x="3943.88" y="2605.20" font-size="25.30" textLength="119.69" lengthAdjust="spacingAndGlyphs" fill="#000" xml:space="preserve">8 Feb 2022</text>
<text x="122.24" y="176.00" font-size="25.30" textLength="402.17" lengthAdjust="spacingAndGlyphs" fill="#000" xml:space="preserve">XAGUSD, Daily:  Silver vs US Dollar</text>
<g fill="none" stroke-width="2">
<path d="M34.5 154.2 H19.8 a3 3 0 0 0 -3 3 V177 a3 3 0 0 0 3 3 H34.5 Z" fill="#ffe1d9" stroke="#e0453a"/>
<path d="M34.5 154.2 H49.3 a3 3 0 0 1 3 3 V177 a3 3 0 0 1 -3 3 H34.5 Z" fill="#c3e6ff" stroke="#1a6fb5"/>
<line x1="20.7" y1="159.1" x2="32.6" y2="159.1" stroke="#e0453a"/>
<line x1="36.4" y1="159.1" x2="48.4" y2="159.1" stroke="#1a6fb5"/>
<line x1="20.7" y1="167.0" x2="32.6" y2="167.0" stroke="#e0453a"/>
<line x1="36.4" y1="167.0" x2="48.4" y2="167.0" stroke="#1a6fb5"/>
<line x1="20.7" y1="174.7" x2="32.6" y2="174.7" stroke="#e0453a"/>
<line x1="36.4" y1="174.7" x2="48.4" y2="174.7" stroke="#1a6fb5"/>
<path d="M72.2 154.8 H76.8 a1.5 1.5 0 0 1 1.5 1.5 V164.6 H84.4 a1.5 1.5 0 0 1 1.5 1.5 V178.3 a1.5 1.5 0 0 1 -1.5 1.5 H72.2 a1.5 1.5 0 0 1 -1.5 -1.5 V156.3 a1.5 1.5 0 0 1 1.5 -1.5 Z" fill="#ffe1d9" stroke="#e0453a"/>
<path d="M100.4 154.8 H105 a1.5 1.5 0 0 1 1.5 1.5 V178.3 a1.5 1.5 0 0 1 -1.5 1.5 H92.8 a1.5 1.5 0 0 1 -1.5 -1.5 V166.6 a1.5 1.5 0 0 1 1.5 -1.5 H98.9 V156.3 a1.5 1.5 0 0 1 1.5 -1.5 Z" fill="#c3e6ff" stroke="#1a6fb5"/>
<rect x="83.4" y="154.4" width="10.4" height="4.6" rx="1.2" fill="#fff" stroke="#a8a8a8" stroke-width="1.6"/>
</g>
<path d="M13 194.3 H125 V251.3 H251.5 V339.8 H13 Z" fill="url(#gs)"/>
<path d="M380.4 194.3 H492.4 V339.8 H256.5 V251.3 H380.4 Z" fill="url(#gb)"/>
<path d="M14 195.3 H124 V252.3 H250.5 V338.8 H14 Z" fill="none" stroke="#c00000" stroke-opacity="0.55" stroke-width="2"/>
<path d="M381.4 195.3 H491.4 V338.8 H257.5 V252.3 H381.4 Z" fill="none" stroke="#0000c0" stroke-opacity="0.55" stroke-width="2"/>
<rect x="23.3" y="248" width="92" height="2.2" fill="#ff8a8a" fill-opacity="0.75"/>
<rect x="390" y="248" width="92" height="2.2" fill="#8a8aff" fill-opacity="0.75"/>
<rect x="131.5" y="195.4" width="242.8" height="49" fill="#fff" stroke="#aeb4bd" stroke-width="2.4"/>
<rect x="132.7" y="196.6" width="47.7" height="46.6" fill="url(#gsp)"/>
<rect x="324.3" y="196.6" width="48.8" height="46.6" fill="url(#gsp)"/>
<line x1="180.4" y1="195.4" x2="180.4" y2="244.4" stroke="#aeb4bd" stroke-width="2.4"/>
<line x1="324.3" y1="195.4" x2="324.3" y2="244.4" stroke="#aeb4bd" stroke-width="2.4"/>
<polygon points="148.5,215 163.5,215 156,223" fill="#000"/>
<polygon points="341,223 356,223 348.5,215" fill="#000"/>
<text x="258.73" y="229.10" font-size="30.23" textLength="55.38" lengthAdjust="spacingAndGlyphs" fill="#000" xml:space="preserve">1.00</text>
<text x="34.60" y="231.86" font-size="30.08" textLength="62.10" lengthAdjust="spacingAndGlyphs" fill="#fff" stroke="url(#gs)" stroke-width="0.30" xml:space="preserve">SELL</text>
<text x="404.05" y="231.85" font-size="30.53" textLength="57.61" lengthAdjust="spacingAndGlyphs" fill="#fff" stroke="url(#gb)" stroke-width="0.30" xml:space="preserve">BUY</text>
<text x="69.93" y="324.11" font-size="29.94" textLength="37.04" lengthAdjust="spacingAndGlyphs" fill="#fff" stroke="url(#gs)" stroke-width="0.20" xml:space="preserve">23</text>
<text x="114.17" y="325.11" font-size="81.07" textLength="88.46" lengthAdjust="spacingAndGlyphs" fill="#fff" stroke="url(#gs)" stroke-width="2.60" xml:space="preserve">34</text>
<text x="208.86" y="290.41" font-size="29.66" textLength="21.21" lengthAdjust="spacingAndGlyphs" fill="#fff" stroke="url(#gs)" stroke-width="0.20" xml:space="preserve">6</text>
<text x="312.33" y="324.11" font-size="29.94" textLength="37.04" lengthAdjust="spacingAndGlyphs" fill="#fff" stroke="url(#gb)" stroke-width="0.20" xml:space="preserve">23</text>
<text x="358.67" y="325.11" font-size="81.07" textLength="88.36" lengthAdjust="spacingAndGlyphs" fill="#fff" stroke="url(#gb)" stroke-width="2.60" xml:space="preserve">35</text>
<text x="453.44" y="290.50" font-size="29.65" textLength="20.19" lengthAdjust="spacingAndGlyphs" fill="#fff" stroke="url(#gb)" stroke-width="0.20" xml:space="preserve">7</text>
</svg>
</body></html>
